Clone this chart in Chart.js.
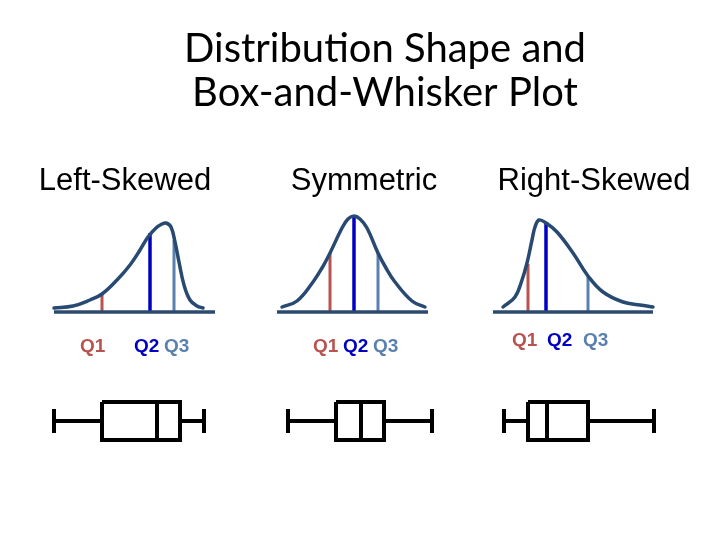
<!DOCTYPE html>
<html>
<head>
<meta charset="utf-8">
<script src="https://cdn.jsdelivr.net/npm/chart.js@4"></script>
<style>
  body { margin: 0; background: #fff; }
  #wrap { width: 720px; height: 540px; position: relative; }
</style>
</head>
<body>
<div id="wrap"><canvas id="shapeChart" width="720" height="540"></canvas></div>
<script>
// panel names
const panels = ['Left-Skewed', 'Symmetric', 'Right-Skewed'];

// curve outlines (x = value, y = height above baseline)
const leftX = [54, 73, 90, 102, 117, 130, 140, 148, 156, 162, 166, 171, 175, 179, 184, 190, 197, 203];
const leftY = [4, 6, 12, 18, 32, 47, 62, 75, 84, 88, 89, 85, 70, 50, 27, 12, 6, 4];
const symX = [282, 297, 313, 322, 330, 342, 348, 354, 360, 367, 378, 386, 395, 412, 425];
const symY = [5, 11, 30, 44, 59, 84, 93, 96, 93, 84, 59, 44, 30, 11, 5];
const rightX = [503, 515, 522, 527, 532, 535, 539, 546, 557, 573, 588, 603, 623, 640, 653];
const rightY = [5, 15, 32, 49, 72, 85, 92, 89, 80, 59, 36, 20, 10, 7, 5];

// baseline extents
const baseFrom = [54, 277, 493];
const baseTo = [215, 428, 653];

// quartile markers on the curves and their heights
const q1X = [102, 330, 528];
const q2X = [150, 354, 546];
const q3X = [174, 378, 588];
const q1H = [18, 59, 48];
const q2H = [79, 96, 89];
const q3H = [72, 59, 36];

// box-and-whisker values
const boxLow = [54, 288, 504];
const boxQ1 = [102, 336, 528];
const boxMed = [157, 361, 547];
const boxQ3 = [180, 384, 588];
const boxHigh = [204, 432, 654];

const curveColor = '#284a72';
const qColors = ['#b9534f', '#0000c4', '#5a80b0'];

function pts(xs, ys) {
  return xs.map((x, i) => ({ x: x, y: ys[i] }));
}

function seg(data, color, width) {
  return {
    data: data,
    showLine: true,
    borderColor: color,
    borderWidth: width,
    pointRadius: 0,
    tension: 0,
    borderCapStyle: 'butt',
    borderJoinStyle: 'miter'
  };
}

const datasets = [];

// curves
[[leftX, leftY], [symX, symY], [rightX, rightY]].forEach(c => {
  datasets.push({
    data: pts(c[0], c[1]),
    showLine: true,
    borderColor: curveColor,
    borderWidth: 3.5,
    pointRadius: 0,
    tension: 0.4,
    borderCapStyle: 'round'
  });
});

// baselines
panels.forEach((p, i) => {
  datasets.push(seg([{ x: baseFrom[i], y: 0 }, { x: baseTo[i], y: 0 }], '#2c4a6e', 3.5));
});

// quartile lines
panels.forEach((p, i) => {
  datasets.push(seg([{ x: q1X[i], y: 0 }, { x: q1X[i], y: q1H[i] }], qColors[0], 3));
  datasets.push(seg([{ x: q2X[i], y: 0 }, { x: q2X[i], y: q2H[i] }], qColors[1], 3.5));
  datasets.push(seg([{ x: q3X[i], y: 0 }, { x: q3X[i], y: q3H[i] }], qColors[2], 3));
});

// box plots (vertical placement is layout)
const boxMid = -109, boxHalf = 19, capHalf = 12;
panels.forEach((p, i) => {
  datasets.push(seg([{ x: boxLow[i], y: boxMid }, { x: boxQ1[i], y: boxMid }], '#000', 4));
  datasets.push(seg([{ x: boxQ3[i], y: boxMid }, { x: boxHigh[i], y: boxMid }], '#000', 4));
  datasets.push(seg([{ x: boxLow[i], y: boxMid + capHalf }, { x: boxLow[i], y: boxMid - capHalf }], '#000', 4));
  datasets.push(seg([{ x: boxHigh[i], y: boxMid + capHalf }, { x: boxHigh[i], y: boxMid - capHalf }], '#000', 4));
  datasets.push(seg([
    { x: boxQ1[i], y: boxMid + boxHalf }, { x: boxQ3[i], y: boxMid + boxHalf },
    { x: boxQ3[i], y: boxMid - boxHalf }, { x: boxQ1[i], y: boxMid - boxHalf },
    { x: boxQ1[i], y: boxMid + boxHalf }
  ], '#000', 4));
  datasets.push(seg([{ x: boxMed[i], y: boxMid + boxHalf }, { x: boxMed[i], y: boxMid - boxHalf }], '#000', 4));
});

// text layer
const textPlugin = {
  id: 'texts',
  afterDraw(chart) {
    const ctx = chart.ctx;
    ctx.save();
    ctx.textBaseline = 'middle';
    ctx.textAlign = 'center';
    ctx.fillStyle = '#000';
    ctx.font = '40px Lato';
    ctx.fillText('Distribution Shape and', 385, 49);
    ctx.fillText('Box-and-Whisker Plot', 385, 93);

    ctx.font = '31px "Liberation Sans"';
    const centers = [125, 364, 594];
    panels.forEach((p, i) => ctx.fillText(p, centers[i], 181));

    ctx.textAlign = 'left';
    ctx.font = 'bold 19px "Liberation Sans"';
    const labelX = [[80, 134, 164], [313, 343, 373], [512, 547, 583]];
    const labelY = [347, 347, 341];
    labelX.forEach((row, i) => {
      ['Q1', 'Q2', 'Q3'].forEach((t, j) => {
        ctx.fillStyle = qColors[j];
        ctx.fillText(t, row[j], labelY[i]);
      });
    });
    ctx.restore();
  }
};

new Chart(document.getElementById('shapeChart').getContext('2d'), {
  type: 'scatter',
  data: { datasets: datasets },
  options: {
    responsive: false,
    animation: false,
    layout: { padding: 0 },
    plugins: { legend: { display: false }, tooltip: { enabled: false } },
    scales: {
      x: { type: 'linear', min: 0, max: 720, display: false },
      y: { type: 'linear', min: -228, max: 312, display: false }
    }
  },
  plugins: [textPlugin]
});
</script>
</body>
</html>
